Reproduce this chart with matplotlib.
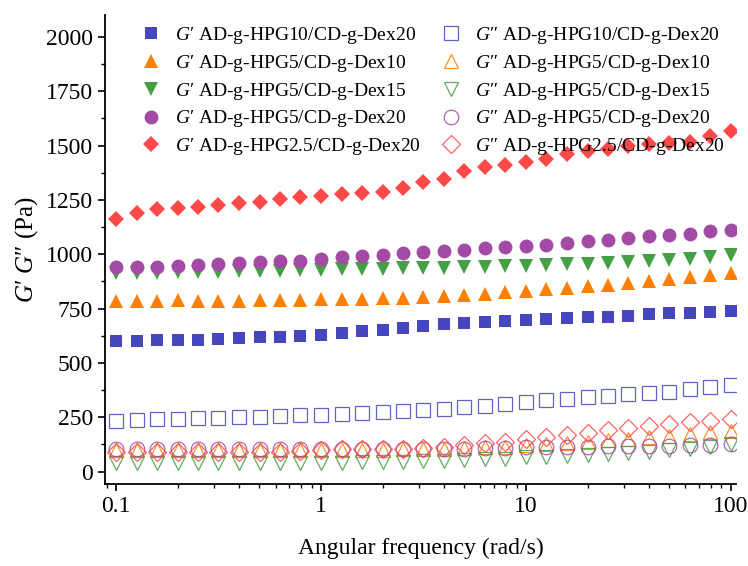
import numpy as np
import matplotlib
matplotlib.use('Agg')
import matplotlib.pyplot as plt
from matplotlib.ticker import FixedLocator, MultipleLocator, LogLocator, NullFormatter

plt.rcParams['font.family'] = ['Liberation Serif', 'DejaVu Serif']
plt.rcParams['mathtext.fontset'] = 'custom'
plt.rcParams['mathtext.rm'] = 'Liberation Serif'
plt.rcParams['mathtext.it'] = 'Liberation Serif:italic'

# angular frequency, 10 points per decade
freq = [0.1, 0.126, 0.158, 0.2, 0.251, 0.316, 0.398, 0.501, 0.631, 0.794,
        1.0, 1.26, 1.58, 2.0, 2.51, 3.16, 3.98, 5.01, 6.31, 7.94,
        10.0, 12.6, 15.8, 20.0, 25.1, 31.6, 39.8, 50.1, 63.1, 79.4, 100.0]

# storage modulus G'
gp_hpg10_dex20 = [603, 603, 604, 606, 607, 610, 613, 617, 620, 625, 630, 637, 645, 652, 662, 672,
                  678, 683, 688, 694, 698, 702, 706, 710, 713, 716, 723, 728, 731, 735, 740]
gp_hpg5_dex10 = [785, 785, 787, 788, 785, 785, 787, 788, 790, 790, 792, 793, 795, 797, 800, 803,
                 807, 812, 818, 825, 832, 838, 845, 852, 860, 868, 875, 885, 895, 903, 915]
gp_hpg5_dex15 = [915, 915, 915, 917, 918, 920, 922, 923, 925, 927, 928, 930, 932, 933, 935, 937,
                 938, 940, 942, 945, 948, 950, 953, 956, 960, 963, 967, 972, 978, 988, 998]
gp_hpg5_dex20 = [942, 942, 942, 945, 950, 955, 960, 963, 967, 971, 979, 987, 991, 997, 1005, 1009,
                 1013, 1020, 1028, 1033, 1039, 1045, 1051, 1059, 1066, 1073, 1082, 1090, 1094, 1105, 1113]
gp_hpg25_dex20 = [1163, 1191, 1209, 1214, 1218, 1228, 1237, 1241, 1255, 1264, 1269, 1278, 1283, 1287,
                  1306, 1333, 1347, 1384, 1402, 1411, 1425, 1439, 1462, 1476, 1485, 1499, 1508, 1513,
                  1517, 1545, 1566]

# loss modulus G''
gpp_hpg10_dex20 = [232, 236, 240, 243, 245, 248, 250, 252, 255, 258, 262, 265, 268, 272, 277, 282,
                   288, 295, 303, 312, 320, 328, 336, 343, 350, 355, 362, 368, 378, 390, 400]
gpp_hpg5_dex10 = [97, 97, 97, 97, 97, 97, 97, 97, 97, 97, 98, 99, 100, 101, 102, 104,
                  106, 108, 111, 115, 120, 126, 132, 138, 145, 152, 158, 165, 172, 180, 188]
gpp_hpg5_dex15 = [38, 38, 38, 38, 38, 38, 38, 38, 39, 39, 40, 41, 42, 43, 45, 47,
                  50, 53, 56, 60, 65, 68, 72, 75, 80, 85, 90, 98, 105, 115, 128]
gpp_hpg5_dex20 = [102, 102, 102, 102, 102, 102, 102, 102, 102, 102, 102, 102, 102, 102, 102, 103,
                  104, 106, 108, 110, 112, 113, 114, 115, 116, 117, 118, 119, 121, 123, 126]
gpp_hpg25_dex20 = [88, 88, 88, 88, 88, 88, 89, 90, 92, 94, 100, 102, 102, 102, 102, 107,
                   114, 122, 130, 137, 148, 158, 168, 178, 190, 200, 210, 218, 226, 234, 242]

samples = ['AD-g-HPG10/CD-g-Dex20', 'AD-g-HPG5/CD-g-Dex10', 'AD-g-HPG5/CD-g-Dex15',
           'AD-g-HPG5/CD-g-Dex20', 'AD-g-HPG2.5/CD-g-Dex20']
gp_series = [gp_hpg10_dex20, gp_hpg5_dex10, gp_hpg5_dex15, gp_hpg5_dex20, gp_hpg25_dex20]
gpp_series = [gpp_hpg10_dex20, gpp_hpg5_dex10, gpp_hpg5_dex15, gpp_hpg5_dex20, gpp_hpg25_dex20]

colors = ['#4646be', '#ff8000', '#45a045', '#a24aa6', '#ff4848']
markers = ['s', '^', 'v', 'o', 'D']
msizes = [9, 10, 10, 10, 8.5]

fig = plt.figure(figsize=(7.48, 5.66), dpi=100)
ax = fig.add_axes([0.140, 0.145, 0.844, 0.828])

handles = []
for i in range(5):
    h, = ax.plot(freq, gp_series[i], linestyle='none', marker=markers[i], ms=msizes[i],
                 color=colors[i], markeredgewidth=0, label='$G\u2032$ ' + samples[i])
    handles.append(h)
for i in range(5):
    h, = ax.plot(freq, gpp_series[i], linestyle='none', marker=markers[i], ms=msizes[i] + 0.5,
                 markerfacecolor='none', markeredgecolor=colors[i], markeredgewidth=0.9,
                 alpha=0.85, label='$G\u2033$ ' + samples[i])
    handles.append(h)

ax.set_xscale('log')
ax.set_xlim(0.088, 106)
ax.set_ylim(-57, 2100)
ax.yaxis.set_major_locator(FixedLocator([0, 250, 500, 750, 1000, 1250, 1500, 1750, 2000]))
ax.yaxis.set_minor_locator(MultipleLocator(125))
ax.xaxis.set_major_locator(FixedLocator([0.1, 1, 10, 100]))
ax.set_xticklabels(['0.1', '1', '10', '100'])
ax.xaxis.set_minor_locator(LogLocator(base=10, subs=np.arange(2, 10)))
ax.xaxis.set_minor_formatter(NullFormatter())

ax.spines['top'].set_visible(False)
ax.spines['right'].set_visible(False)
ax.spines['left'].set_linewidth(1.3)
ax.spines['bottom'].set_linewidth(1.3)
ax.tick_params(which='major', direction='out', length=5, width=1.2, labelsize=17)
ax.tick_params(which='minor', direction='out', length=3, width=1.0)

ax.set_xlabel('Angular frequency (rad/s)', fontsize=17, labelpad=15)
ax.set_ylabel('$G\u2032$ $G\u2033$ (Pa)', fontsize=18, labelpad=4)

ax.legend(handles=handles, ncol=2, frameon=False, fontsize=14, loc='upper left',
          bbox_to_anchor=(0.035, 1.0), labelspacing=0.35, columnspacing=0.75,
          handletextpad=0.5, handlelength=1.5, borderaxespad=0.1)

fig.savefig('out.png', dpi=100)
